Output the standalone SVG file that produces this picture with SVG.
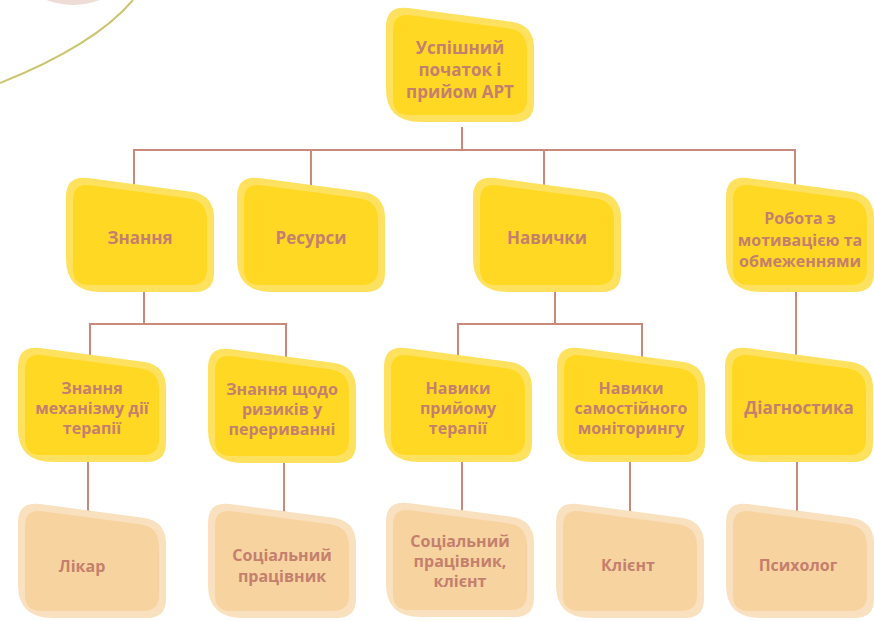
<svg xmlns="http://www.w3.org/2000/svg" xmlns:xlink="http://www.w3.org/1999/xlink" width="874" height="621" viewBox="0 0 874 621">
<defs>
<style>
.conn{stroke:#C98A7B;stroke-width:2;fill:none}
.yb{fill:#FFE160}.yf{fill:#FFD823}
.pb{fill:#F9E0BE}.pf{fill:#F7D3A0}
text{font-family:"Open Sans","Noto Sans","DejaVu Sans",sans-serif;font-weight:bold;fill:#C4806D;text-anchor:middle}
.t17{font-size:17px}.t16{font-size:16px}
</style>
<path id="back" d="M -7,14 Q -7,-8 15,-5 L 118,8.7 Q 141,11.7 141,35 L 141,90 Q 141,109 122,109 L 28,109 Q -7,109 -7,76 Z"/>
<path id="front" d="M 0,17 Q 0,0 17,2.3 L 115,15.3 Q 134,17.8 134,37 L 134,86 Q 134,102 118,102 L 16,102 Q 0,102 0,86 Z"/>
</defs>
<g id="decor">
<circle cx="73" cy="-68" r="73" fill="#F0DCD6"/>
<path d="M 0,83 Q 95,45 133,0" fill="none" stroke="#CCC46E" stroke-width="2"/>
</g>
<g id="connectors" class="conn">
<path d="M 462,127 V 150 M 134,200 V 150 H 795 V 200 M 311,150 V 200 M 544,150 V 200"/>
<path d="M 144,285 V 324 M 90,370 V 324 H 286 V 370"/>
<path d="M 555,285 V 324 M 458,370 V 324 H 642 V 370"/>
<path d="M 796,285 V 370"/>
<path d="M 88,455 V 520 M 284,455 V 520 M 462,455 V 520 M 630,455 V 520 M 797,455 V 520"/>
</g>
<g id="n-start" transform="translate(393,13)">
<use href="#back" class="yb"/><use href="#front" class="yf"/>
<text class="t17" x="67" y="41">Успішний</text>
<text class="t17" x="67" y="63">початок і</text>
<text class="t17" x="67" y="85">прийом АРТ</text>
</g>
<g id="n-znannia" transform="translate(73,183)">
<use href="#back" class="yb"/><use href="#front" class="yf"/>
<text class="t17" x="67" y="61">Знання</text>
</g>
<g id="n-resursy" transform="translate(244,183)">
<use href="#back" class="yb"/><use href="#front" class="yf"/>
<text class="t17" x="67" y="61">Ресурси</text>
</g>
<g id="n-navychky" transform="translate(480,183)">
<use href="#back" class="yb"/><use href="#front" class="yf"/>
<text class="t17" x="67" y="61">Навички</text>
</g>
<g id="n-robota" transform="translate(733,183)">
<use href="#back" class="yb"/><use href="#front" class="yf"/>
<text class="t16" x="67" y="41">Робота з</text>
<text class="t16" x="67" y="63">мотивацією та</text>
<text class="t16" x="67" y="84">обмеженнями</text>
</g>
<g id="n-mekhanizm" transform="translate(25,353)">
<use href="#back" class="yb"/><use href="#front" class="yf"/>
<text class="t16" x="67" y="41">Знання</text>
<text class="t16" x="67" y="61">механізму дії</text>
<text class="t16" x="67" y="81">терапії</text>
</g>
<g id="n-ryzyky" transform="translate(215,354)">
<use href="#back" class="yb"/><use href="#front" class="yf"/>
<text class="t16" x="67" y="41">Знання щодо</text>
<text class="t16" x="67" y="61">ризиків у</text>
<text class="t16" x="67" y="81">перериванні</text>
</g>
<g id="n-pryiom" transform="translate(391,353)">
<use href="#back" class="yb"/><use href="#front" class="yf"/>
<text class="t16" x="67" y="41">Навики</text>
<text class="t16" x="67" y="61">прийому</text>
<text class="t16" x="67" y="81">терапії</text>
</g>
<g id="n-monitoring" transform="translate(564,353)">
<use href="#back" class="yb"/><use href="#front" class="yf"/>
<text class="t16" x="67" y="41">Навики</text>
<text class="t16" x="67" y="61">самостійного</text>
<text class="t16" x="67" y="81">моніторингу</text>
</g>
<g id="n-diagnostyka" transform="translate(732,353)">
<use href="#back" class="yb"/><use href="#front" class="yf"/>
<text class="t17" x="67" y="61">Діагностика</text>
</g>
<g id="n-likar" transform="translate(25,509)">
<use href="#back" class="pb"/><use href="#front" class="pf"/>
<text class="t16" x="57" y="63">Лікар</text>
</g>
<g id="n-sotsprac" transform="translate(215,509)">
<use href="#back" class="pb"/><use href="#front" class="pf"/>
<text class="t16" x="67" y="52">Соціальний</text>
<text class="t16" x="67" y="73">працівник</text>
</g>
<g id="n-sotsklient" transform="translate(393,508)">
<use href="#back" class="pb"/><use href="#front" class="pf"/>
<text class="t16" x="67" y="39">Соціальний</text>
<text class="t16" x="67" y="59">працівник,</text>
<text class="t16" x="67" y="79">клієнт</text>
</g>
<g id="n-klient" transform="translate(563,509)">
<use href="#back" class="pb"/><use href="#front" class="pf"/>
<text class="t16" x="65" y="62">Клієнт</text>
</g>
<g id="n-psykholog" transform="translate(733,509)">
<use href="#back" class="pb"/><use href="#front" class="pf"/>
<text class="t16" x="65" y="62">Психолог</text>
</g>
</svg>
